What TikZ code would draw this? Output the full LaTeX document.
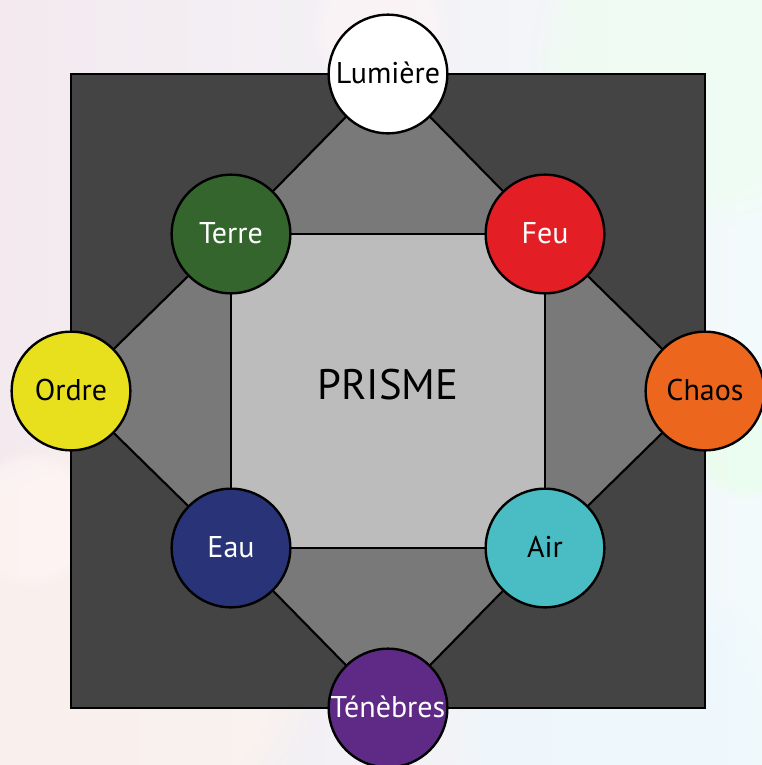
\documentclass[tikz,border=0pt]{standalone}
\usepackage{fontspec}
\setmainfont{PT Sans}
\usetikzlibrary{fadings}

\definecolor{bgbase}{HTML}{E6E2EE}
\definecolor{darkplate}{HTML}{444444}
\definecolor{midgray}{HTML}{797979}
\definecolor{lightgray}{HTML}{BCBCBC}
\definecolor{cTerre}{HTML}{33652D}
\definecolor{cFeu}{HTML}{E31E25}
\definecolor{cChaos}{HTML}{EC671D}
\definecolor{cOrdre}{HTML}{E8E01D}
\definecolor{cEau}{HTML}{283477}
\definecolor{cAir}{HTML}{49BCC4}
\definecolor{cTenebres}{HTML}{5E2A86}

\tikzset{
  element/.style={circle, draw=black, line width=1.8pt, minimum size=89pt,
    inner sep=0pt, font=\fontsize{22.5}{26}\selectfont},
  label up/.style={text depth=4pt},
  edge/.style={draw=black, line width=1.6pt, line join=miter},
  blob/.style={path fading=circle with fuzzy edge 20 percent, opacity=0.5},
}

\begin{document}
\begin{tikzpicture}[x=0.75pt, y=-0.75pt]
  \useasboundingbox (0,0) rectangle (762,765);

  % soft pastel backdrop
  \shade[left color=bgbase!80!pink!60!white, right color=bgbase!85!cyan!20!white]
    (0,0) rectangle (762,765);
  \fill[blob, color=orange!8!white] (110,640) circle (220);
  \fill[blob, color=cyan!8!white] (620,730) circle (170);
  \fill[blob, color=green!7!white] (700,60) circle (170);
  \fill[blob, color=pink!15!white] (380,30) circle (70);
  \fill[blob, color=pink!12!white] (30,520) circle (70);
  \fill[blob, color=green!10!white] (745,450) circle (50);

  % circle centres
  \coordinate (cL) at (388,74);
  \coordinate (cT) at (231,234);
  \coordinate (cF) at (545,234);
  \coordinate (cO) at (71,391);
  \coordinate (cC) at (705,391);
  \coordinate (cE) at (231,548);
  \coordinate (cA) at (545,548);
  \coordinate (cN) at (388,708);

  % dark plate
  \path[fill=darkplate, draw=black, line width=1.8pt] (71,74) rectangle (705,708);

  % octagon and inner square
  \path[edge, fill=midgray] (cL) -- (cF) -- (cC) -- (cA) -- (cN) -- (cE) -- (cO) -- (cT) -- cycle;
  \path[edge, fill=lightgray] (cT) -- (cF) -- (cA) -- (cE) -- cycle;

  \node[font=\fontsize{32}{38}\selectfont] (prisme) at (388,385) {PRISME};

  % the eight elements
  \node[element, fill=white, text=black] (lumiere) at (cL) {\raisebox{2pt}{Lumière}};
  \node[element, fill=cTerre, text=white] (terre) at (cT) {\raisebox{2pt}{Terre}};
  \node[element, fill=cFeu, text=white] (feu) at (cF) {\raisebox{2pt}{Feu}};
  \node[element, fill=cOrdre, text=black] (ordre) at (cO) {\raisebox{2pt}{Ordre}};
  \node[element, fill=cChaos, text=black] (chaos) at (cC) {\raisebox{2pt}{Chaos}};
  \node[element, fill=cEau, text=white] (eau) at (cE) {\raisebox{2pt}{Eau}};
  \node[element, fill=cAir, text=black] (air) at (cA) {\raisebox{2pt}{Air}};
  \node[element, fill=cTenebres, text=white] (tenebres) at (cN) {\raisebox{2pt}{Ténèbres}};
\end{tikzpicture}
\end{document}
